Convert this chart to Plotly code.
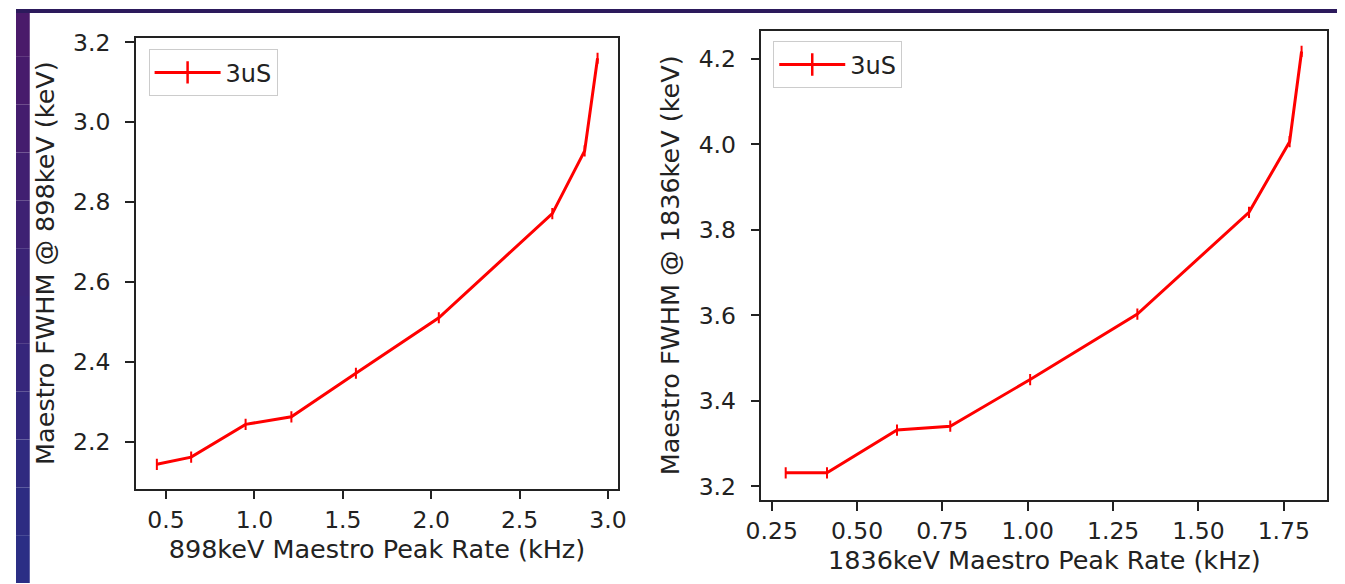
import plotly.graph_objects as go

# ---- data ----
left_rate = [0.448, 0.642, 0.95, 1.209, 1.574, 2.043, 2.685, 2.868, 2.941]
left_fwhm = [2.143, 2.161, 2.243, 2.262, 2.371, 2.510, 2.771, 2.928, 3.160]
right_rate = [0.291, 0.412, 0.617, 0.773, 1.007, 1.321, 1.648, 1.767, 1.802]
right_fwhm = [3.232, 3.232, 3.332, 3.341, 3.450, 3.603, 3.841, 4.006, 4.217]
series_name = "3uS"
left_xlabel = "898keV Maestro Peak Rate (kHz)"
left_ylabel = "Maestro FWHM @ 898keV (keV)"
right_xlabel = "1836keV Maestro Peak Rate (kHz)"
right_ylabel = "Maestro FWHM @ 1836keV (keV)"

W, H = 1345, 584
FONT = "DejaVu Sans"
TICK_FS = 23.5
TITLE_FS = 25.5
LEG_FS = 24
TXT = "#222222"

fig = go.Figure()

marker = dict(symbol="line-ns", size=8, color="red", line=dict(width=2, color="red"))
key_marker = dict(symbol="line-ns", size=16, color="red", line=dict(width=2.5, color="red"))

fig.add_trace(go.Scatter(x=left_rate, y=left_fwhm, mode="lines+markers", name=series_name,
                         line=dict(color="red", width=3), marker=marker, showlegend=False,
                         xaxis="x", yaxis="y"))
fig.add_trace(go.Scatter(x=right_rate, y=right_fwhm, mode="lines+markers", name=series_name,
                         line=dict(color="red", width=3), marker=marker, showlegend=False,
                         xaxis="x2", yaxis="y2"))
# legend keys (no data drawn)
fig.add_trace(go.Scatter(x=[None], y=[None], mode="lines+markers", name=series_name,
                         line=dict(color="red", width=3), marker=key_marker, showlegend=True,
                         xaxis="x", yaxis="y", legend="legend"))
fig.add_trace(go.Scatter(x=[None], y=[None], mode="lines+markers", name=series_name,
                         line=dict(color="red", width=3), marker=key_marker, showlegend=True,
                         xaxis="x2", yaxis="y2", legend="legend2"))

def ax(domain, rng, dtick, fmt, title, standoff, anchor, lblstand):
    return dict(domain=domain, range=rng, dtick=dtick, tick0=0, tickformat=fmt,
                showline=True, mirror=True, linecolor="#222222", linewidth=1.5,
                ticks="outside", ticklen=9, tickwidth=1.5, tickcolor="#222222",
                ticklabelstandoff=lblstand,
                showgrid=False, zeroline=False, anchor=anchor,
                tickfont=dict(family=FONT, size=TICK_FS, color=TXT),
                title=dict(text=title, font=dict(family=FONT, size=TITLE_FS, color=TXT), standoff=standoff))

lx0, lx1 = 122 / W, 613 / W
ly0, ly1 = 1 - 488 / H, 1 - 29 / H
rx0, rx1 = 759 / W, 1335 / W
ry0, ry1 = 1 - 499.3 / H, 1 - 22.3 / H

shapes = []
# slide background strips (decoration)
n = 12
for i in range(n):
    t = i / (n - 1)
    r = int(0x4a + (0x2b - 0x4a) * t)
    g = int(0x1a + (0x2e - 0x1a) * t)
    b = int(0x6a + (0x85 - 0x6a) * t)
    shapes.append(dict(type="rect", xref="paper", yref="paper", x0=0, x1=14 / W,
                       y0=1 - (i + 1) / n, y1=1 - i / n, line=dict(width=0),
                       fillcolor=f"rgb({r},{g},{b})", layer="below"))
shapes.append(dict(type="rect", xref="paper", yref="paper", x0=0, x1=1, y0=1 - 4 / H, y1=1,
                   line=dict(width=0), fillcolor="#2c1a5c", layer="below"))

legend_common = dict(xanchor="left", yanchor="top", bgcolor="white", bordercolor="#cccccc",
                     borderwidth=1, font=dict(family=FONT, size=LEG_FS, color=TXT),
                     itemsizing="trace", itemwidth=66)

fig.update_layout(
    width=W, height=H, margin=dict(l=0, r=0, t=0, b=0),
    paper_bgcolor="white", plot_bgcolor="white", showlegend=True,
    font=dict(family=FONT, size=TICK_FS, color=TXT),
    xaxis=ax([lx0, lx1], [0.329, 3.057], 0.5, ".1f", left_xlabel, 6, "y", 0),
    yaxis=ax([ly0, ly1], [2.082, 3.212], 0.2, ".1f", left_ylabel, 11, "x", 10),
    xaxis2=ax([rx0, rx1], [0.220, 1.877], 0.25, ".2f", right_xlabel, 3, "y2", 0),
    yaxis2=ax([ry0, ry1], [3.169, 4.265], 0.2, ".1f", right_ylabel, 12, "x2", 10),
    legend=dict(x=135 / W, y=1 - 41 / H, **legend_common),
    legend2=dict(x=771 / W, y=1 - 33 / H, **legend_common),
    shapes=shapes,
)

fig.write_html("out.html")
